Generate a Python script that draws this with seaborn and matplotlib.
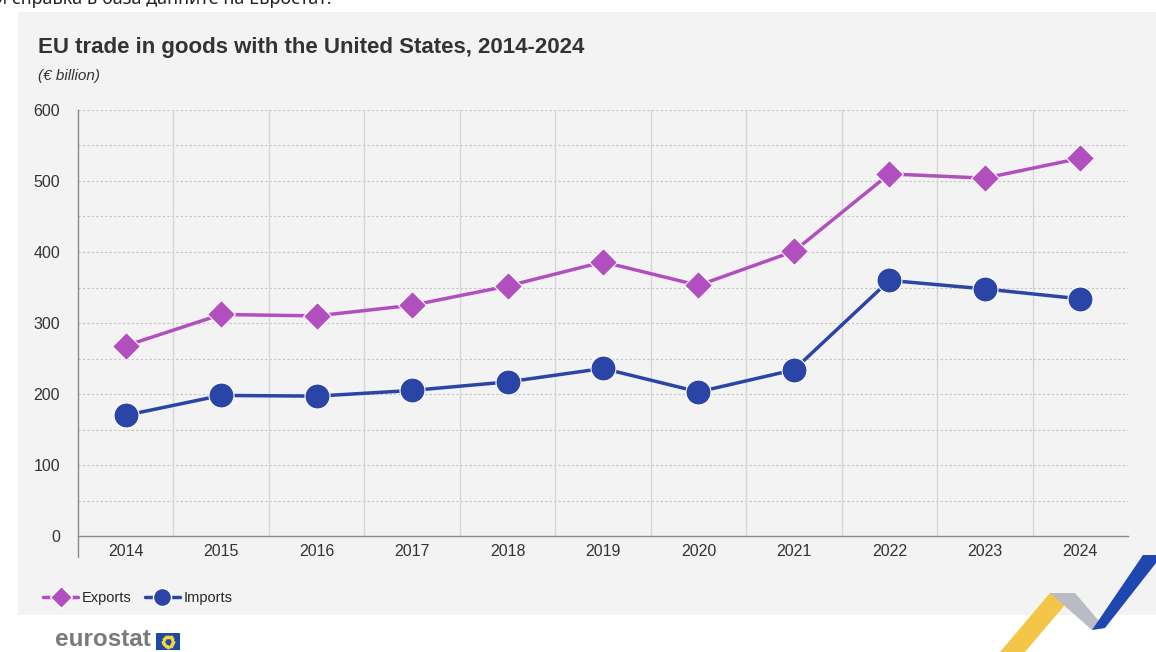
import matplotlib
matplotlib.use("Agg")
import matplotlib.pyplot as plt
import matplotlib.patches as mpatches
from matplotlib.lines import Line2D
import seaborn as sns
import pandas as pd
import numpy as np

years = [2014, 2015, 2016, 2017, 2018, 2019, 2020, 2021, 2022, 2023, 2024]
exports = [268, 312, 310, 325, 352, 386, 353, 401, 510, 504, 532]
imports = [170, 198, 197, 205, 217, 236, 203, 234, 360, 348, 334]
y_ticks = [0, 100, 200, 300, 400, 500, 600]

sns.set_theme(style="white")
plt.rcParams['font.family'] = ['Liberation Sans Narrow', 'Liberation Sans', 'DejaVu Sans']

exp_c = "#b24fbf"
imp_c = "#2a45a6"
panel_c = "#f3f3f3"

fig = plt.figure(figsize=(11.56, 6.52), dpi=100)
fig.patch.set_facecolor("white")

# grey panel
fig.patches.append(mpatches.Rectangle((18/1156, 37/652), 1 - 18/1156, (615-12)/652,
                                      transform=fig.transFigure, facecolor=panel_c,
                                      edgecolor="none", zorder=-10))

ax = fig.add_axes([78/1156, 1-536/652, (1128-78)/1156, (536-110)/652])
ax.set_facecolor(panel_c)
ax.set_zorder(1)

df = pd.DataFrame({"year": years * 2,
                   "value": exports + imports,
                   "series": ["Exports"] * len(years) + ["Imports"] * len(years)})
idx = {y: i for i, y in enumerate(years)}
df["pos"] = df["year"].map(idx)

for v in list(range(50, 601, 50)):
    ax.axhline(v, color="#c4c4c4", lw=0.8, ls=(0, (2, 2)), zorder=1)
for b in np.arange(0.5, len(years) - 0.5, 1.0):
    ax.axvline(b, color="#d6d6d6", lw=1, zorder=1)

sns.lineplot(data=df[df.series == "Exports"], x="pos", y="value", ax=ax, color=exp_c,
             lw=2.5, marker="D", markersize=14, markeredgecolor="white", markeredgewidth=0.8,
             zorder=5, legend=False)
sns.lineplot(data=df[df.series == "Imports"], x="pos", y="value", ax=ax, color=imp_c,
             lw=2.5, marker="o", markersize=18, markeredgecolor="white", markeredgewidth=0.8,
             zorder=5, legend=False)

ax.set_xlim(-0.5, len(years) - 0.5)
ax.set_ylim(0, 600)
ax.set_yticks(y_ticks)
ax.set_yticklabels([str(v) for v in y_ticks], fontsize=11.5, color="#333333")
ax.set_xticks(range(len(years)))
ax.set_xticklabels([str(y) for y in years], fontsize=11.5, color="#333333")
ax.set_xticks(np.arange(-0.5, len(years) + 0.5, 1.0), minor=True)
ax.tick_params(axis="x", which="major", length=0, pad=6)
ax.tick_params(axis="x", which="minor", length=16, color="#d0d0d0", width=1)
ax.tick_params(axis="y", which="both", length=0, pad=13)
ax.set_xlabel("")
ax.set_ylabel("")

for s in ["top", "right"]:
    ax.spines[s].set_visible(False)
ax.spines["left"].set_color("#8a8a8a")
ax.spines["left"].set_linewidth(1)
ax.spines["bottom"].set_color("#8a8a8a")
ax.spines["bottom"].set_linewidth(1)
ax.plot([-0.5, -0.5], [0, -30], color="#8a8a8a", lw=1, clip_on=False, zorder=3)

# title / subtitle
fig.text(38/1156, 1 - 48/652, "EU trade in goods with the United States, 2014-2024",
         fontsize=16, fontweight="bold", color="#333333", va="center", ha="left")
fig.text(38/1156, 1 - 76/652, "(€ billion)", fontsize=11, style="italic",
         color="#333333", va="center", ha="left")

# cut-off text at top (as in the reference screenshot)
fig.text(-4/1156, 1 + 1/652, "и справка в база данните на Евростат.",
         fontsize=13, family=['Noto Sans', 'DejaVu Sans'], color="#222222",
         va="center", ha="left")

# legend
handles = [Line2D([0], [0], color=exp_c, lw=2.5, marker="D", markersize=11, markeredgecolor="white"),
           Line2D([0], [0], color=imp_c, lw=2.5, marker="o", markersize=13, markeredgecolor="white")]
fig.legend(handles, ["Exports", "Imports"], loc="center left",
           bbox_to_anchor=(30/1156, 1 - 598/652), ncol=2, frameon=False,
           fontsize=10.5, handlelength=2.4, handletextpad=0.25, columnspacing=0.9)

# eurostat logo
fig.text(55/1156, 1 - 640/652, "eurostat", fontsize=17.5, fontweight="bold",
         family=['Liberation Sans', 'DejaVu Sans'], color="#7a7a7a", va="center", ha="left")
fig.patches.append(mpatches.Rectangle((156/1156, 1 - 650/652), 24/1156, 17/652,
                                      transform=fig.transFigure, facecolor="#1f49a6",
                                      edgecolor="none", zorder=3))
th = np.linspace(0, 2*np.pi, 12, endpoint=False)
fig.lines.append(Line2D((168 + 5*np.cos(th))/1156, (1 - 641.5/652) + 5*np.sin(th)/652,
                        transform=fig.transFigure, ls="none", marker="*", markersize=2.5,
                        color="#f5d33a", zorder=4))

# decorative ribbon bottom right
def poly(pts, color):
    p = mpatches.Polygon([(x/1156, 1 - y/652) for x, y in pts], closed=True,
                         transform=fig.transFigure, facecolor=color, edgecolor="none",
                         zorder=2)
    fig.patches.append(p)

poly([(1000, 652), (1050, 593), (1075, 593), (1025, 652)], "#f3c64a")
poly([(1050, 593), (1075, 593), (1105, 628), (1092, 630)], "#b9bcc2")
poly([(1092, 630), (1105, 628), (1156, 563), (1156, 555), (1143, 555)], "#1f47b0")

fig.savefig("out.png", dpi=100, facecolor="white")
